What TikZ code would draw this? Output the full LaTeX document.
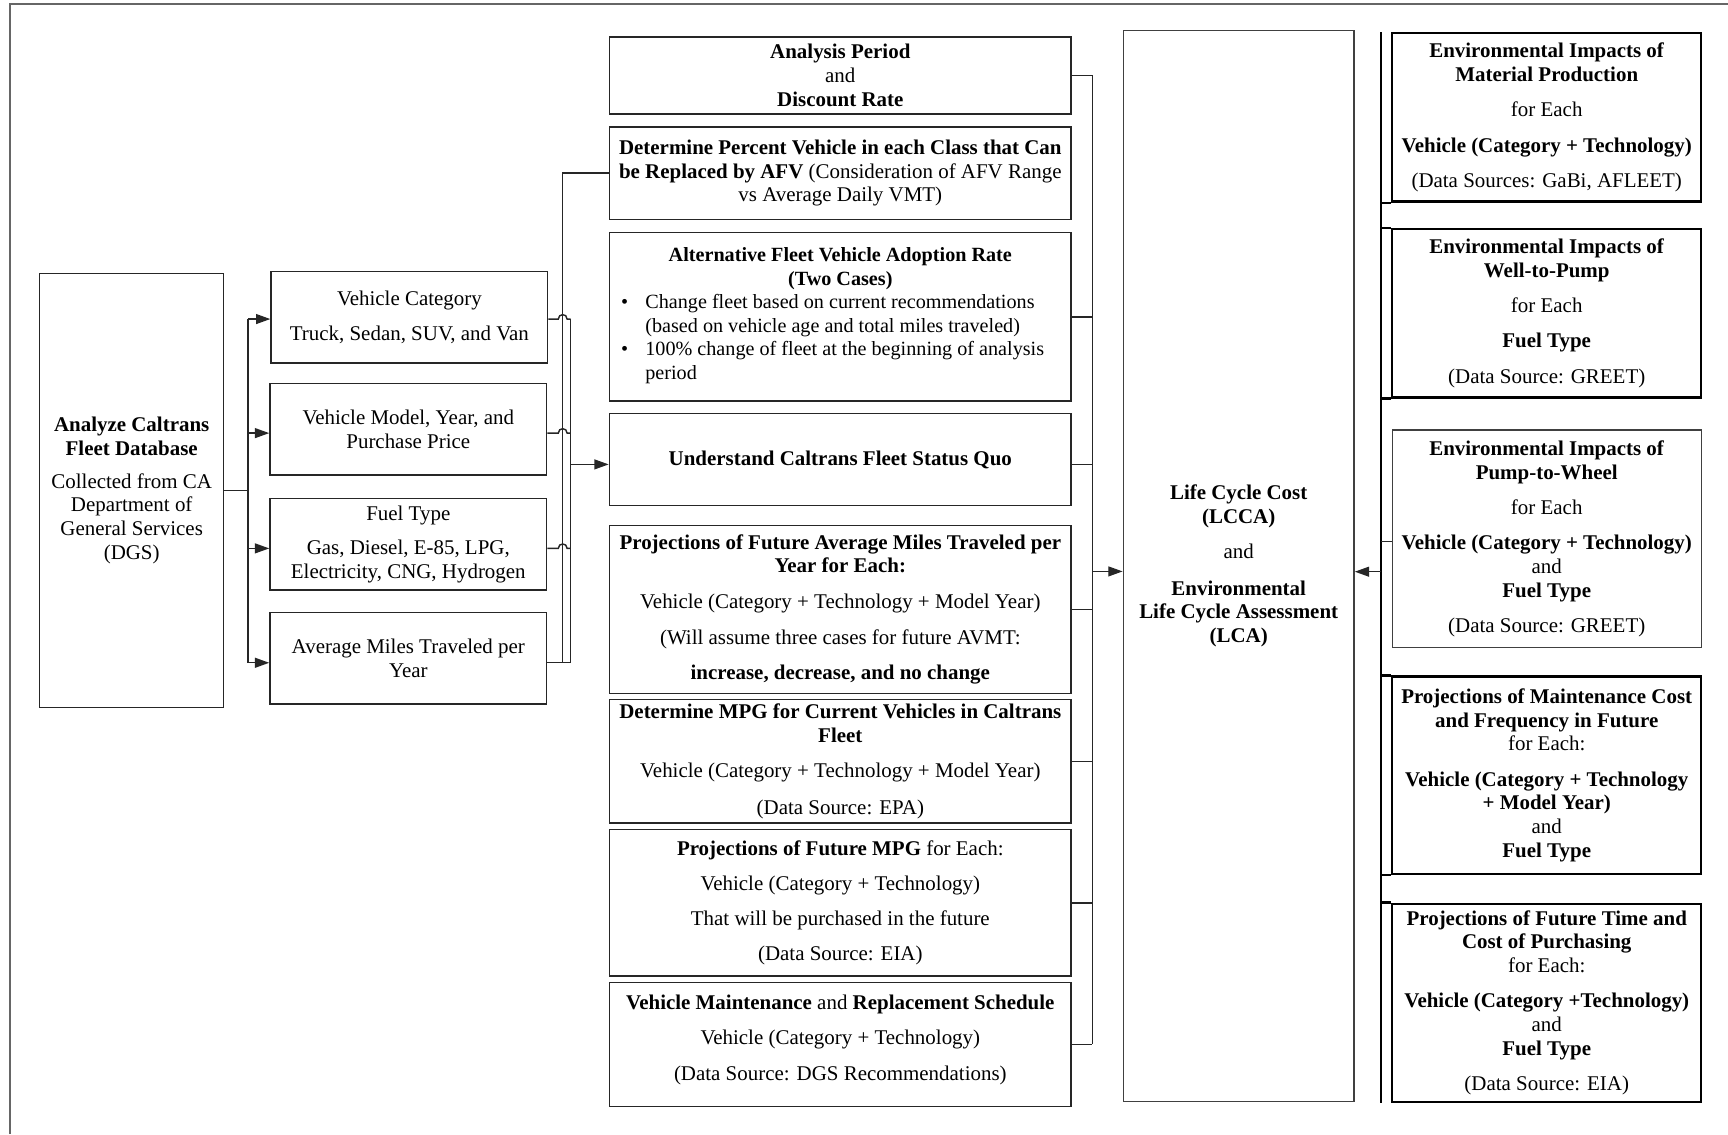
\documentclass[tikz,border=0pt]{standalone}
\usepackage{fontspec}
\setmainfont{Liberation Serif}
\usetikzlibrary{arrows.meta,calc}
\tikzset{
  box/.style={draw=black!85, line width=1.4pt, align=center, inner xsep=3pt, inner ysep=2pt,
    font=\fontsize{19pt}{21.5pt}\selectfont},
  thickbox/.style={box, draw=black, line width=2.2pt},
  thinbox/.style={box, draw=black!75, line width=1.2pt},
  conn/.style={draw=black!85, line width=1.3pt},
  thk/.style={draw=black, line width=2.2pt},
  rail/.style={draw=black, line width=1.8pt},
  arr/.style={conn, -{Triangle[length=13pt,width=9pt]}},
  frame/.style={draw=black!60, line width=2pt},
}
\begin{document}
\begin{tikzpicture}[x=1pt,y=-1pt]
\useasboundingbox (0,0) rectangle (1568,1029);
\draw[frame] (9,1029) -- (9,3.6) -- (1568,3.6);

% ---------- left column ----------
\node[box, minimum width=167pt, minimum height=394pt] (db) at (119.5,445)
  {\textbf{Analyze Caltrans}\\\textbf{Fleet Database}\\[8.5pt]Collected from CA\\Department of\\General Services\\(DGS)};
\node[box, minimum width=251pt, minimum height=83pt] (vc) at (371.5,288)
  {Vehicle Category\\[9.5pt]Truck, Sedan, SUV, and Van};
\node[box, minimum width=251pt, minimum height=83pt] (vm) at (370.5,389.6)
  {Vehicle Model, Year, and\\Purchase Price};
\node[box, minimum width=251pt, minimum height=83pt] (ft) at (370.5,493.8)
  {Fuel Type\\[9.5pt]Gas, Diesel, E-85, LPG,\\Electricity, CNG, Hydrogen};
\node[box, minimum width=251pt, minimum height=83pt] (am) at (370.5,597.3)
  {Average Miles Traveled per\\Year};

% ---------- middle column ----------
\node[box, minimum width=419pt, minimum height=69.6pt] (ap) at (762.5,68.4)
  {\textbf{Analysis Period}\\and\\\textbf{Discount Rate}};
\node[box, minimum width=419pt, minimum height=83.8pt] (dp) at (762.5,157.1)
  {\textbf{Determine Percent Vehicle in each Class that Can}\\\textbf{be Replaced by AFV} (Consideration of AFV Range\\vs Average Daily VMT)};
\node[box, font=\fontsize{18.3pt}{21.3pt}\selectfont, minimum width=419pt, minimum height=152.7pt] (af) at (762.5,287.5)
  {\textbf{Alternative Fleet Vehicle Adoption Rate}\\\textbf{(Two Cases)}\\
   \begin{tabular}[t]{@{}p{22pt}@{}l@{\hspace{14pt}}}
   \textbullet & Change fleet based on current recommendations\\
               & (based on vehicle age and total miles traveled)\\
   \textbullet & 100\% change of fleet at the beginning of analysis\\
               & period
   \end{tabular}};
\node[box, minimum width=419pt, minimum height=83.2pt] (und) at (762.5,417)
  {\textbf{Understand Caltrans Fleet Status Quo}};
\node[box, minimum width=419pt, minimum height=152.5pt] (pa) at (762.5,553)
  {\textbf{Projections of Future Average Miles Traveled per}\\\textbf{Year for Each:}\\[10.5pt]Vehicle (Category + Technology + Model Year)\\[11.5pt](Will assume three cases for future AVMT:\\[10.5pt]\textbf{increase, decrease, and no change}};
\node[box, minimum width=419pt, minimum height=112.4pt] (mpg) at (762.5,690.8)
  {\textbf{Determine MPG for Current Vehicles in Caltrans}\\\textbf{Fleet}\\[10.5pt]Vehicle (Category + Technology + Model Year)\\[11.5pt](Data Source: EPA)};
\node[box, minimum width=419pt, minimum height=133.1pt] (pm) at (762.5,819.2)
  {\textbf{Projections of Future MPG} for Each:\\[10.5pt]Vehicle (Category + Technology)\\[10.5pt]That will be purchased in the future\\[10.5pt](Data Source: EIA)};
\node[box, minimum width=419pt, minimum height=112.4pt] (vmr) at (762.5,947.7)
  {\textbf{Vehicle Maintenance} and \textbf{Replacement Schedule}\\[10.5pt]Vehicle (Category + Technology)\\[10.5pt](Data Source: DGS Recommendations)\\[-9pt]\mbox{}};

% ---------- LCC ----------
\node[thinbox, minimum width=209.5pt, minimum height=972pt] (lcc) at (1124,513.75)
  {\textbf{Life Cycle Cost}\\\textbf{(LCCA)}\\[10.5pt]and\\[11.5pt]\textbf{Environmental}\\\textbf{Life Cycle Assessment}\\\textbf{(LCA)}};

% ---------- right column ----------
\node[thickbox, minimum width=280.3pt, minimum height=152.8pt] (r1) at (1403.5,106.6)
  {\textbf{Environmental Impacts of}\\\textbf{Material Production}\\[10.5pt]for Each\\[10.5pt]\textbf{Vehicle (Category + Technology)}\\[10.5pt](Data Sources: GaBi, AFLEET)};
\node[thickbox, minimum width=280.3pt, minimum height=152.6pt] (r2) at (1403.5,284.3)
  {\textbf{Environmental Impacts of}\\\textbf{Well-to-Pump}\\[10.5pt]for Each\\[10.5pt]\textbf{Fuel Type}\\[10.5pt](Data Source: GREET)};
\node[thinbox, minimum width=280.3pt, minimum height=197.4pt] (r3) at (1403.5,489)
  {\textbf{Environmental Impacts of}\\\textbf{Pump-to-Wheel}\\[10.5pt]for Each\\[10.5pt]\textbf{Vehicle (Category + Technology)}\\and\\\textbf{Fuel Type}\\[10.5pt](Data Source: GREET)};
\node[thickbox, minimum width=280.3pt, minimum height=179pt] (r4) at (1403.5,703.5)
  {\textbf{Projections of Maintenance Cost}\\\textbf{and Frequency in Future}\\for Each:\\[10.5pt]\textbf{Vehicle (Category + Technology}\\\textbf{+ Model Year)}\\and\\\textbf{Fuel Type}};
\node[thickbox, minimum width=280.3pt, minimum height=179.7pt] (r5) at (1403.5,909.9)
  {\textbf{Projections of Future Time and}\\\textbf{Cost of Purchasing}\\for Each:\\[10.5pt]\textbf{Vehicle (Category +Technology)}\\and\\\textbf{Fuel Type}\\[10.5pt](Data Source: EIA)};

% ---------- helper coordinates ----------
\coordinate (tk) at (225,0);
\coordinate (hb) at (510.6,0);
\coordinate (bb) at (517.8,0);
\coordinate (rb) at (991.3,0);
\coordinate (rl) at (1253,0);
\coordinate (vcA) at ([yshift=-1.5pt]vc.west);
\coordinate (vmA) at ([yshift=-3.4pt]vm.west);
\coordinate (ftA) at ([yshift=-3.8pt]ft.west);
\coordinate (amA) at ([yshift=-4.1pt]am.west);
\coordinate (vcB) at ([yshift=-1.5pt]vc.east);
\coordinate (vmB) at ([yshift=-3.4pt]vm.east);
\coordinate (ftB) at ([yshift=-3.8pt]ft.east);
\coordinate (amB) at ([yshift=-4.1pt]am.east);
\coordinate (undA) at ([yshift=-4.4pt]und.west);
\coordinate (undB) at ([yshift=-4.4pt]und.east);
\coordinate (lccA) at ([yshift=-4.75pt]lcc.west);
\coordinate (lccB) at ([yshift=-5pt]lcc.east);
\coordinate (r3A) at ([yshift=-2.6pt]r3.west);

% ---------- left connectors ----------
\draw[conn] (db.east) -- (db.east -| tk);
\draw[conn] (vcA -| tk) -- (amA -| tk);
\foreach \p in {vcA,vmA,ftA,amA} \draw[arr] (\p -| tk) -- (\p);

\foreach \p in {vcB,vmB,ftB}
  \draw[conn] (\p) -- ($(\p -| hb)+(-4,0)$) .. controls +(0,-5.33) and +(0,-5.33) .. ($(\p -| hb)+(4,0)$) -- (\p -| bb);
\draw[conn] (amB) -- (amB -| bb);
\draw[conn] (vcB -| bb) -- (amB -| bb);
\draw[conn] (amB -| hb) |- (dp.west);
\draw[arr] (undA -| bb) -- (undA);

% ---------- middle to LCC ----------
\foreach \n in {ap,af,pa,mpg,pm,vmr} \draw[conn] (\n.east) -- (\n.east -| rb);
\draw[conn] (undB) -- (undB -| rb);
\draw[conn] (ap.east -| rb) -- (vmr.east -| rb);
\draw[arr] (lccA -| rb) -- (lccA);

% ---------- right column rail ----------
\draw[rail] (r1.north -| rl) -- (r5.south -| rl);
\foreach \a in {r1.south west, r2.north west, r2.south west, r4.north west, r4.south west, r5.north west}
  \draw[thk] (\a) -- (\a -| rl);
\draw[conn] (r3A) -- (r3A -| rl);
\draw[arr] (lccB -| rl) -- (lccB);
\end{tikzpicture}
\end{document}
